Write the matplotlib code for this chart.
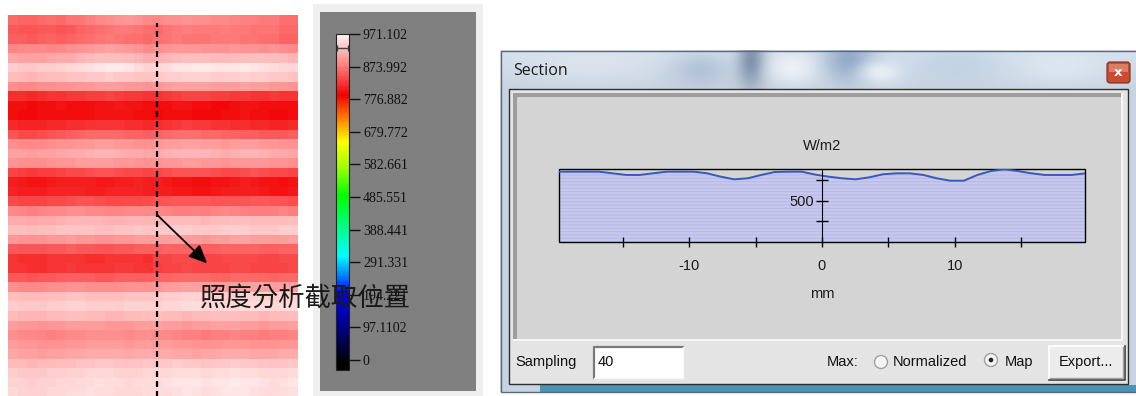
import numpy as np
import matplotlib
matplotlib.use("Agg")
import matplotlib.pyplot as plt
from matplotlib.colors import LinearSegmentedColormap, Normalize
from matplotlib.patches import Rectangle, Circle, FancyBboxPatch

W, H = 1136, 396

# ---------------- data ----------------
# irradiance map (W/m2), 40 rows x 30 columns
irradiance_map = [
    [862, 860, 858, 862, 866, 864, 870, 872, 878, 884, 890, 894, 896, 892, 886, 884, 888, 890, 892, 890, 888, 886, 884, 882, 880, 878, 876, 874, 868, 866],
    [850, 848, 846, 850, 852, 848, 852, 858, 862, 866, 872, 876, 874, 870, 866, 864, 870, 876, 878, 876, 874, 876, 878, 876, 874, 872, 870, 870, 864, 862],
    [856, 854, 852, 856, 858, 856, 860, 862, 866, 870, 874, 872, 868, 866, 862, 866, 872, 874, 872, 870, 872, 874, 876, 874, 872, 870, 868, 866, 860, 858],
    [882, 884, 886, 884, 882, 886, 888, 892, 896, 900, 904, 902, 898, 892, 886, 890, 894, 896, 898, 896, 894, 892, 894, 896, 894, 892, 890, 892, 888, 886],
    [908, 906, 904, 906, 908, 912, 914, 918, 922, 926, 928, 926, 922, 918, 914, 916, 920, 924, 926, 928, 926, 924, 922, 924, 926, 928, 926, 924, 922, 920],
    [938, 936, 934, 938, 940, 944, 946, 950, 954, 958, 962, 960, 958, 950, 944, 948, 952, 956, 958, 960, 960, 958, 956, 958, 960, 958, 954, 950, 948, 946],
    [928, 924, 920, 924, 926, 928, 930, 932, 934, 936, 938, 936, 934, 932, 930, 934, 938, 940, 942, 944, 942, 940, 938, 940, 942, 940, 938, 936, 934, 932],
    [890, 886, 884, 888, 890, 892, 894, 896, 898, 900, 902, 900, 898, 896, 894, 896, 900, 904, 906, 906, 904, 902, 900, 902, 904, 902, 900, 898, 896, 894],
    [822, 820, 818, 822, 824, 826, 828, 830, 832, 834, 836, 834, 830, 828, 826, 826, 830, 834, 836, 838, 836, 834, 832, 830, 828, 826, 826, 828, 826, 824],
    [800, 798, 796, 798, 800, 802, 800, 798, 800, 802, 804, 806, 804, 802, 800, 798, 800, 802, 804, 800, 798, 796, 794, 800, 802, 802, 800, 800, 798, 798],
    [798, 796, 796, 798, 800, 800, 798, 798, 800, 802, 802, 804, 802, 800, 798, 796, 798, 800, 798, 796, 794, 796, 798, 800, 802, 800, 798, 796, 796, 798],
    [816, 814, 812, 814, 816, 818, 820, 822, 824, 826, 826, 824, 822, 820, 818, 822, 826, 830, 832, 830, 828, 826, 824, 822, 820, 818, 816, 814, 814, 816],
    [846, 842, 840, 844, 848, 852, 856, 860, 862, 864, 864, 862, 860, 858, 856, 860, 864, 866, 868, 866, 864, 862, 860, 858, 856, 854, 852, 850, 852, 854],
    [888, 886, 884, 886, 888, 892, 894, 896, 898, 900, 900, 898, 896, 894, 892, 896, 900, 902, 904, 904, 902, 900, 898, 900, 902, 900, 898, 896, 894, 892],
    [906, 904, 902, 904, 906, 910, 912, 914, 916, 918, 918, 916, 914, 912, 910, 912, 916, 918, 920, 920, 918, 916, 914, 916, 918, 918, 916, 914, 912, 910],
    [892, 890, 888, 890, 892, 896, 898, 900, 900, 902, 900, 898, 896, 894, 892, 894, 896, 898, 900, 900, 898, 896, 894, 896, 898, 898, 896, 894, 892, 890],
    [836, 832, 830, 832, 834, 838, 840, 842, 844, 846, 846, 844, 842, 840, 838, 840, 844, 846, 848, 848, 846, 844, 842, 842, 844, 846, 844, 842, 840, 838],
    [808, 806, 804, 804, 806, 808, 810, 810, 808, 806, 806, 808, 810, 812, 810, 808, 806, 804, 802, 800, 800, 802, 804, 806, 808, 806, 804, 802, 800, 802],
    [812, 810, 808, 810, 812, 812, 814, 812, 810, 810, 812, 814, 814, 812, 810, 810, 808, 806, 806, 804, 804, 806, 808, 810, 810, 808, 806, 804, 804, 806],
    [840, 838, 836, 838, 840, 842, 844, 846, 846, 844, 842, 840, 840, 842, 844, 846, 848, 850, 852, 852, 850, 848, 846, 846, 848, 850, 850, 848, 846, 844],
    [884, 882, 880, 882, 884, 886, 888, 888, 886, 884, 882, 882, 884, 886, 886, 884, 882, 880, 878, 878, 880, 882, 884, 882, 880, 878, 878, 880, 882, 880],
    [914, 912, 910, 912, 914, 916, 918, 920, 920, 918, 916, 916, 918, 920, 918, 920, 922, 924, 924, 922, 920, 922, 924, 926, 926, 924, 922, 922, 924, 926],
    [928, 926, 924, 926, 928, 930, 932, 932, 930, 928, 928, 930, 932, 934, 932, 934, 936, 938, 938, 936, 934, 936, 938, 940, 938, 936, 934, 936, 938, 940],
    [896, 894, 892, 894, 896, 898, 900, 898, 896, 894, 894, 896, 898, 900, 900, 900, 902, 904, 902, 900, 898, 900, 902, 904, 904, 902, 900, 900, 902, 904],
    [850, 848, 846, 848, 850, 852, 854, 852, 850, 848, 848, 850, 852, 854, 854, 856, 858, 860, 860, 858, 856, 856, 858, 860, 860, 858, 856, 856, 858, 860],
    [824, 822, 820, 822, 824, 826, 826, 824, 822, 822, 824, 826, 826, 824, 822, 836, 838, 840, 842, 840, 838, 838, 840, 842, 842, 840, 838, 838, 840, 842],
    [826, 824, 822, 822, 824, 826, 828, 826, 824, 824, 826, 828, 828, 826, 824, 834, 836, 838, 840, 838, 836, 836, 838, 840, 840, 838, 836, 836, 838, 840],
    [852, 850, 848, 850, 852, 854, 856, 856, 854, 852, 852, 854, 856, 856, 854, 858, 860, 862, 864, 864, 862, 860, 860, 862, 864, 864, 862, 860, 862, 864],
    [888, 886, 884, 886, 888, 890, 892, 892, 890, 888, 888, 890, 892, 894, 894, 898, 900, 902, 904, 904, 902, 900, 900, 902, 904, 906, 904, 902, 904, 906],
    [926, 924, 922, 924, 926, 928, 930, 930, 928, 926, 926, 928, 930, 932, 932, 936, 938, 940, 942, 942, 940, 938, 938, 940, 942, 944, 942, 940, 942, 944],
    [938, 936, 934, 936, 938, 940, 942, 942, 940, 938, 938, 940, 942, 944, 944, 944, 946, 948, 950, 950, 948, 946, 946, 948, 950, 952, 950, 948, 950, 952],
    [922, 920, 918, 920, 922, 924, 926, 926, 924, 922, 920, 920, 922, 924, 926, 926, 924, 922, 920, 922, 924, 926, 928, 926, 924, 922, 920, 922, 924, 926],
    [900, 898, 896, 894, 896, 898, 900, 902, 902, 900, 898, 896, 898, 900, 902, 904, 902, 900, 898, 900, 902, 904, 906, 904, 902, 900, 898, 900, 902, 904],
    [888, 886, 884, 882, 880, 882, 884, 886, 888, 890, 890, 888, 886, 888, 890, 886, 884, 882, 880, 878, 876, 878, 880, 882, 880, 878, 876, 878, 880, 882],
    [900, 898, 896, 894, 892, 894, 896, 898, 900, 902, 902, 900, 898, 900, 902, 902, 900, 898, 896, 894, 892, 894, 896, 898, 896, 894, 892, 894, 896, 898],
    [908, 906, 904, 902, 904, 906, 908, 910, 912, 914, 914, 912, 910, 912, 914, 914, 912, 910, 908, 906, 908, 910, 912, 914, 912, 910, 908, 910, 912, 914],
    [924, 922, 920, 922, 924, 926, 928, 930, 932, 934, 934, 932, 930, 932, 934, 934, 936, 938, 936, 934, 932, 934, 936, 938, 936, 934, 932, 930, 932, 934],
    [938, 936, 934, 936, 938, 940, 942, 944, 946, 948, 946, 944, 942, 944, 946, 946, 948, 950, 952, 950, 948, 950, 952, 954, 952, 950, 948, 946, 948, 950],
    [944, 942, 940, 942, 944, 946, 948, 950, 952, 954, 952, 950, 948, 950, 952, 952, 954, 956, 958, 956, 954, 956, 958, 960, 958, 956, 954, 952, 954, 956],
    [946, 944, 942, 944, 946, 948, 950, 952, 954, 952, 950, 948, 946, 948, 950, 950, 952, 954, 956, 954, 952, 954, 956, 958, 956, 954, 952, 950, 952, 954],
]

# section profile (W/m2), one value per sample along the section
section_wm2 = [854, 854, 854, 854, 834, 814, 814, 834, 854, 854,
               854, 834, 793, 761, 773, 814, 850, 854, 854, 818,
               793, 773, 761, 785, 822, 834, 834, 814, 773, 744,
               744, 814, 862, 883, 862, 834, 814, 814, 814, 834]
section_half_width_mm = 19.85
sampling = 40

cbar_tick_labels = ["0", "97.1102", "194.221", "291.331", "388.441", "485.551",
                    "582.661", "679.772", "776.882", "873.992", "971.102"]
map_max = 971.102
display_max = 930
section_col = 15.4

x_ticks = [-15, -10, -5, 0, 5, 10, 15]
x_tick_labels = ["", "-10", "", "0", "", "10", ""]
y_ticks = [250, 500, 750]
y_tick_labels = ["", "500", ""]

cmap_stops = [0, 100, 200, 250, 310, 490, 575, 650, 720, 790, 880, 930, 971.102]
cmap_colors = ["#000010", "#00008c", "#0000ff", "#0080ff", "#00ffff", "#00ff00",
               "#a0ff00", "#ffff00", "#ff8000", "#f20000", "#ff8080", "#ffc0c0", "#fff4f4"]

cmap = LinearSegmentedColormap.from_list(
    "irr", list(zip(np.array(cmap_stops) / map_max, cmap_colors)))
cmap.set_under("#000000")


def rect(x0, y0, x1, y1):
    """Pixel box (top-left origin) -> figure fraction rect."""
    return [x0 / W, 1 - y1 / H, (x1 - x0) / W, (y1 - y0) / H]


fig = plt.figure(figsize=(W / 100, H / 100), dpi=100)
fig.patch.set_facecolor("white")

# ---------------- background chrome (pixel coordinates) ----------------
bg = fig.add_axes([0, 0, 1, 1])
bg.axis("off")

# colour-scale panel
bg.add_patch(Rectangle((313, 4), 170, 393, fc="#efefef", ec="none"))
bg.add_patch(Rectangle((320, 12), 156, 379, fc="#808080", ec="none"))

# glass window frame
yy, xx = np.mgrid[50:392, 500:1136] + 0.5
glass = np.ones((342, 636, 3)) * np.array([0.78, 0.83, 0.88])
glass = glass + (0.05 * np.clip((90 - yy) / 40, 0, 1))[..., None]


def blob(img, cx, cy, sx, sy, col, a):
    w = a * np.exp(-(((xx - cx) / sx) ** 2 + ((yy - cy) / sy) ** 2))
    return img * (1 - w[..., None]) + np.array(col) * w[..., None]


glass = blob(glass, 590, 62, 70, 20, (0.88, 0.90, 0.93), 0.7)
glass = blob(glass, 700, 70, 30, 18, (0.66, 0.73, 0.82), 0.7)
glass = blob(glass, 752, 62, 14, 26, (0.44, 0.52, 0.63), 0.9)
glass = blob(glass, 795, 68, 28, 16, (0.95, 0.96, 0.98), 0.85)
glass = blob(glass, 850, 60, 26, 22, (0.52, 0.62, 0.76), 0.85)
glass = blob(glass, 880, 72, 22, 12, (0.97, 0.98, 0.99), 0.75)
glass = blob(glass, 960, 64, 50, 20, (0.74, 0.81, 0.89), 0.65)
glass = blob(glass, 1060, 66, 50, 20, (0.90, 0.93, 0.96), 0.6)
teal = np.array([0.29, 0.58, 0.71])
band = (yy >= 385) & (xx > 540)
glass[band] = teal
glass = np.clip(glass, 0, 1)
bg.imshow(glass, extent=(500, 1136, 392, 50), aspect="auto",
          interpolation="bilinear", zorder=0)
bg.add_patch(Rectangle((500.5, 50.5), 640, 341, fill=False, ec="#5c6a7a", lw=1))

# client area
bg.add_patch(Rectangle((509, 89), 619, 295, fc="#e4e4e4", ec="#2e2e2e", lw=1))
bg.add_patch(Rectangle((513, 93), 610, 248, fc="#d4d4d4", ec="none"))
bg.add_patch(Rectangle((513, 93), 610, 4, fc="#9d9d9d", ec="none"))
bg.add_patch(Rectangle((513, 93), 4, 248, fc="#9d9d9d", ec="none"))
bg.add_patch(Rectangle((513, 339), 610, 2, fc="#f6f6f6", ec="none"))
bg.add_patch(Rectangle((1121, 93), 2, 248, fc="#f6f6f6", ec="none"))

bg.text(513, 71, "Section", fontsize=11.5, family="Open Sans",
        va="center", ha="left", color="#1b1b1b")

# close button
bg.add_patch(FancyBboxPatch((1107, 62), 23, 21, boxstyle="round,pad=0,rounding_size=3",
                            fc="#cc4a30", ec="#7a2c1e", lw=0.8))
bg.add_patch(Rectangle((1109, 63.5), 19, 8, fc="#e08a70", ec="none", alpha=0.8))
bg.text(1118.5, 73, "x", color="white", fontweight="bold", fontsize=9.5,
        ha="center", va="center", family="DejaVu Sans")

# bottom controls
ui_font = dict(family="Liberation Sans", fontsize=10.5, color="#111111", va="center")
bg.text(515, 362, "Sampling", ha="left", **ui_font)
bg.add_patch(Rectangle((593, 346), 90, 32, fc="white", ec="none"))
bg.plot([593.5, 593.5, 683], [378, 346.5, 346.5], color="#7a7a7a", lw=1.6)
bg.plot([593.5, 683, 683], [378, 378, 346.5], color="#f8f8f8", lw=1)
bg.text(598, 362, str(sampling), ha="left", **ui_font)

bg.text(827, 362, "Max:", ha="left", **ui_font)
bg.add_patch(Circle((881, 362), 6.5, fc="#f4f4f4", ec="#a0a0a0", lw=1))
bg.text(893, 362, "Normalized", ha="left", **ui_font)
bg.add_patch(Circle((991, 360), 6.5, fc="#f4f4f4", ec="#a0a0a0", lw=1))
bg.add_patch(Circle((991, 360), 2.3, fc="#222222", ec="none"))
bg.text(1005, 362, "Map", ha="left", **ui_font)

bg.add_patch(Rectangle((1048, 345), 77, 35, fc="#ececec", ec="none"))
bg.plot([1048.5, 1048.5, 1125], [380, 345.5, 345.5], color="white", lw=1.2)
bg.plot([1048.5, 1124.5, 1124.5], [379.5, 379.5, 345.5], color="#404040", lw=1.2)
bg.plot([1050, 1123, 1123], [378, 378, 347], color="#a0a0a0", lw=1)
bg.text(1086, 362, "Export...", ha="center", **ui_font)

bg.set_xlim(0, W)
bg.set_ylim(H, 0)

# ---------------- irradiance map ----------------
ax_map = fig.add_axes(rect(8, 15, 298, 397))
norm = Normalize(vmin=0, vmax=map_max)
im = ax_map.imshow(np.array(irradiance_map), cmap=cmap, norm=norm, aspect="auto",
                   interpolation="nearest", extent=(0, 30, 40, 0))
ax_map.axis("off")
ax_map.axvline(section_col, ymin=0, ymax=0.98, color="black", lw=1.6,
               dashes=(2.7, 1.8))
ax_map.annotate("", xy=(20.6, 26.0), xytext=(section_col, 20.9),
                arrowprops=dict(arrowstyle="-|>,head_length=0.55,head_width=0.25",
                                color="black", lw=1.3, mutation_scale=20,
                                shrinkA=0, shrinkB=0))

# ---------------- colour bar ----------------
cax = fig.add_axes(rect(336, 34, 349, 370))
cb = fig.colorbar(im, cax=cax, extend="min", extendrect=True, extendfrac=10 / 326)
cb.set_ticks([float(t) for t in cbar_tick_labels], labels=cbar_tick_labels)
cb.outline.set_edgecolor("#222222")
cb.outline.set_linewidth(0.8)
cax.tick_params(axis="y", length=8, width=1, color="#111111", labelsize=10,
                pad=2, labelcolor="#111111")
for lbl in cax.get_yticklabels():
    lbl.set_family("Liberation Serif")
cax.plot([0.08, 0.92], [display_max, display_max], color="#444444", lw=1,
         marker="|", ms=5, mew=1, clip_on=False)

# ---------------- section profile ----------------
ax = fig.add_axes(rect(558.6, 169.3, 1085.4, 241.7))
ax.set_facecolor("none")
x_mm = np.linspace(-section_half_width_mm, section_half_width_mm, sampling)
plt.rcParams["hatch.linewidth"] = 0.8
ax.fill_between(x_mm, 0, section_wm2, facecolor="#c7c8ef", edgecolor="#b9bae4",
                hatch="-----", lw=0)
ax.plot(x_mm, section_wm2, color="#3559bd", lw=1.4)
ax.set_xlim(-section_half_width_mm, section_half_width_mm)
ax.set_ylim(0, max(section_wm2))

for side in ("top", "right", "bottom"):
    ax.spines[side].set_visible(False)
ax.spines["left"].set_position(("data", 0))
ax.spines["left"].set_color("black")
ax.add_patch(Rectangle((0, 0), 1, 1, transform=ax.transAxes, fill=False,
                       ec="black", lw=1, clip_on=False))

label_font = dict(family="Liberation Sans", size=10.5, color="#1a1a1a")
ax.set_xticks(x_ticks, labels=x_tick_labels)
ax.set_yticks(y_ticks, labels=y_tick_labels)
ax.tick_params(axis="x", direction="inout", length=7, width=1, pad=9)
ax.tick_params(axis="y", direction="inout", length=8, width=1, pad=2)
for lbl in ax.get_xticklabels() + ax.get_yticklabels():
    lbl.set_family(label_font["family"])
    lbl.set_fontsize(label_font["size"])
    lbl.set_color(label_font["color"])
ax.set_xlabel("mm", fontdict=label_font, labelpad=10)
ax.set_title("W/m2", fontdict=label_font, pad=14)

# ---------------- caption ----------------
fig.text(200 / W, 1 - 298 / H, "照度分析截取位置", fontsize=19,
         family=["Noto Sans CJK TC", "DejaVu Sans"], va="center", ha="left",
         color="#1a1a1a", zorder=10)

fig.savefig("out.png", dpi=100)
